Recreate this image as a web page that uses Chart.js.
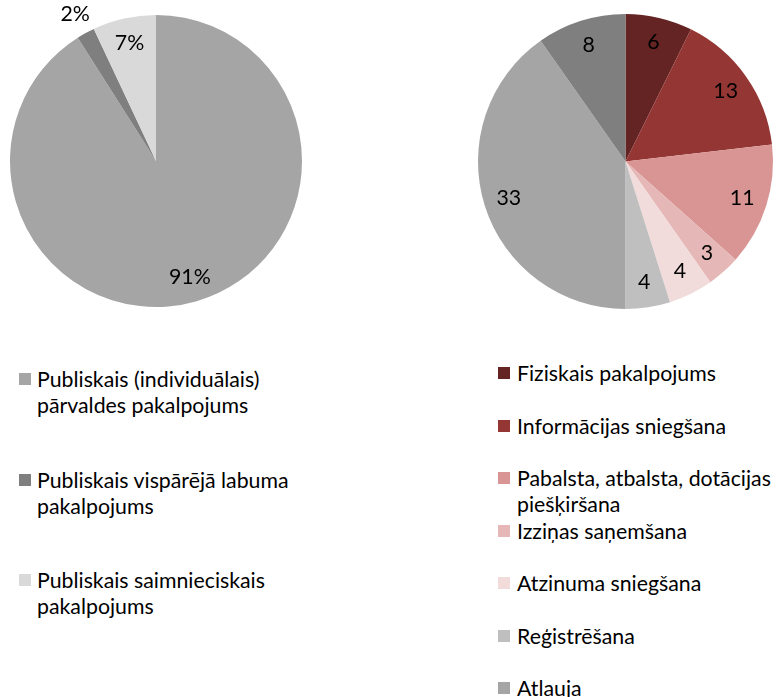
<!DOCTYPE html>
<html><head><meta charset="utf-8">
<script src="https://cdn.jsdelivr.net/npm/chart.js@4.4.1/dist/chart.umd.min.js"></script>
<style>
html,body{margin:0;padding:0;background:#fff;width:779px;height:697px;overflow:hidden;}
#wrap{position:relative;width:779px;height:697px;overflow:hidden;font-family:Lato,'Noto Sans',sans-serif;color:#000;}
canvas{position:absolute;}
.item{position:absolute;line-height:26px;}
.sw{position:absolute;width:12px;height:12px;}
</style></head><body>
<div id="wrap">
<canvas id="c1" width="390" height="330" style="left:0;top:0"></canvas>
<canvas id="c2" width="389" height="330" style="left:390px;top:0"></canvas>
<div id="leg1"></div>
<div id="leg2"></div>
</div>
<script>
// ---- data ----
const typeCategories = ['Publiskais (individuālais) pārvaldes pakalpojums','Publiskais vispārējā labuma pakalpojums','Publiskais saimnieciskais pakalpojums'];
const typeShares = [91, 2, 7];
const typeColors = ['#a5a5a5','#7f7f7f','#d9d9d9'];

const serviceCategories = ['Fiziskais pakalpojums','Informācijas sniegšana','Pabalsta, atbalsta, dotācijas piešķiršana','Izziņas saņemšana','Atzinuma sniegšana','Reģistrēšana','Atļauja','Cits'];
const serviceCounts = [6, 13, 11, 3, 4, 4, 33, 8];
const serviceColors = ['#632423','#943634','#d99594','#e5b8b7','#f2dbdb','#bfbfbf','#a5a5a5','#7f7f7f'];

// ---- fonts sized to match reference text widths ----
const FAM = 'Lato';
const mctx = document.createElement('canvas').getContext('2d');
mctx.font = '100px ' + FAM;
const legendSize = 199 / mctx.measureText('Fiziskais pakalpojums').width * 100;
const labelSize = legendSize;

const labelPlugin = {
  id: 'sliceLabels',
  afterDatasetsDraw(chart, args, opts) {
    const ctx = chart.ctx;
    const meta = chart.getDatasetMeta(0);
    const data = chart.data.datasets[0].data;
    ctx.save();
    ctx.font = labelSize.toFixed(2) + 'px ' + FAM;
    ctx.fillStyle = '#000';
    ctx.textAlign = 'center';
    ctx.textBaseline = 'middle';
    meta.data.forEach((arc, i) => {
      const p = arc.getProps(['x','y','startAngle','endAngle','outerRadius'], true);
      const mid = (p.startAngle + p.endAngle) / 2;
      const frac = (p.endAngle - p.startAngle) < 0.2 ? 1.15 : 0.83;
      const r = p.outerRadius * frac;
      ctx.fillText(opts.suffix ? data[i] + opts.suffix : String(data[i]), p.x + Math.cos(mid) * r, p.y + Math.sin(mid) * r);
    });
    ctx.restore();
  }
};

function makePie(id, labels, values, colors, pad, suffix) {
  return new Chart(document.getElementById(id), {
    type: 'pie',
    data: { labels: labels, datasets: [{ data: values, backgroundColor: colors, borderWidth: 0 }] },
    options: {
      responsive: false, animation: false,
      layout: { padding: pad },
      plugins: { legend: { display: false }, tooltip: { enabled: false }, sliceLabels: { suffix: suffix } }
    },
    plugins: [labelPlugin]
  });
}

makePie('c1', typeCategories, typeShares, typeColors, { left: 10, right: 88, top: 15, bottom: 23 }, '%');
makePie('c2', serviceCategories, serviceCounts, serviceColors, { left: 88, right: 6, top: 14, bottom: 21 }, '');

function makeLegend(id, labels, colors, swLeft, textLeft, firstCenter, step, width) {
  const host = document.getElementById(id);
  labels.forEach((lab, i) => {
    const c = firstCenter + i * step;
    const sw = document.createElement('div');
    sw.className = 'sw';
    sw.style.left = swLeft + 'px';
    sw.style.top = (c - 6) + 'px';
    sw.style.background = colors[i];
    host.appendChild(sw);
    const t = document.createElement('div');
    t.className = 'item';
    t.style.left = textLeft + 'px';
    t.style.top = (c - 13) + 'px';
    t.style.width = width + 'px';
    t.style.fontSize = legendSize.toFixed(2) + 'px';
    t.textContent = lab;
    host.appendChild(t);
  });
}
makeLegend('leg1', typeCategories, typeColors, 19, 37, 379, 100.5, 275);
makeLegend('leg2', serviceCategories, serviceColors, 498, 517, 373, 52.5, 262);
</script>
</body></html>
